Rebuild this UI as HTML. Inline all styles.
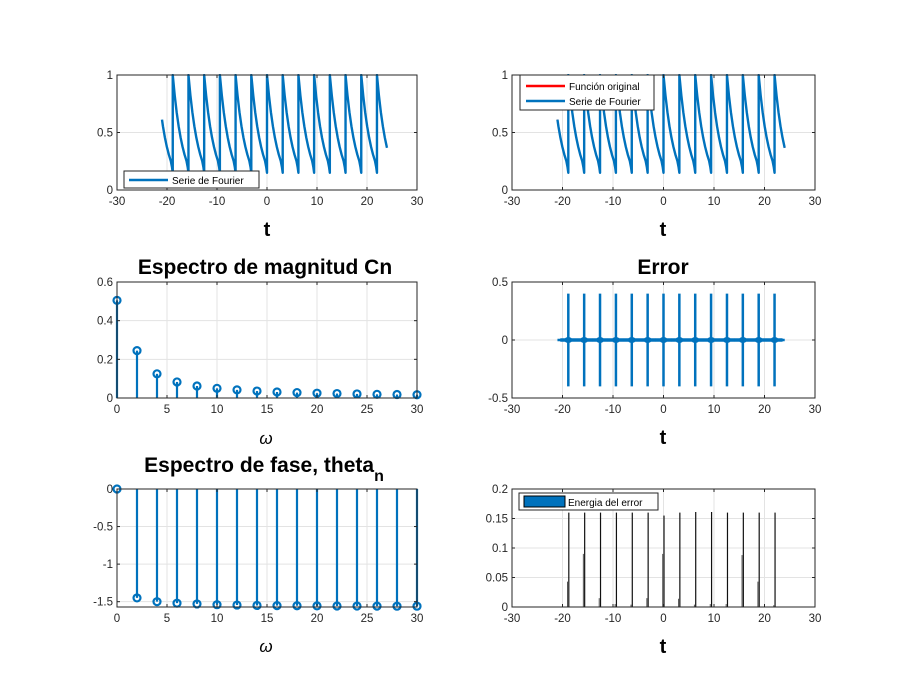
<!DOCTYPE html>
<html><head><meta charset="utf-8"><style>
html,body{margin:0;padding:0;background:#fff}
svg{display:block;font-family:"Liberation Sans",sans-serif}
</style></head><body>
<svg id="fig" width="900" height="695" viewBox="0 0 900 695" xmlns="http://www.w3.org/2000/svg">
<rect width="900" height="695" fill="#fff"/>
</svg>
<script>
// ---- data ----
const jumpTimes = [-18.85,-15.71,-12.57,-9.42,-6.28,-3.14,0,3.14,6.28,9.42,12.57,15.71,18.85,21.99];
const period = 3.1416;
const tStart = -21, tEnd = 24;
const shapeFrac = [0,0.125,0.25,0.375,0.5,0.625,0.75,0.875,0.95,1];
const shapeSeries = [1.0,0.822,0.675,0.555,0.456,0.375,0.308,0.253,0.2,0.15];
const shapeOrig = [1.0,0.822,0.675,0.555,0.456,0.375,0.308,0.253,0.225,0.208];
const omegas = [0,2,4,6,8,10,12,14,16,18,20,22,24,26,28,30];
const magnitudes = [0.505,0.245,0.125,0.083,0.062,0.05,0.042,0.036,0.031,0.028,0.025,0.023,0.021,0.019,0.018,0.017];
const phases = [0,-1.45,-1.50,-1.52,-1.53,-1.54,-1.545,-1.55,-1.552,-1.554,-1.556,-1.557,-1.558,-1.559,-1.56,-1.56];
const errorPeak = 0.4;
const energyMain = [0.16,0.16,0.16,0.16,0.16,0.16,0.155,0.16,0.161,0.161,0.16,0.16,0.16,0.16];
const energySide = [0.043,0.09,0.015,0.005,0.004,0.015,0.09,0.014,0.004,0.005,0.005,0.088,0.043,0.003];
const xTicksT = [-30,-20,-10,0,10,20,30];
const xTicksW = [0,5,10,15,20,25,30];

const NS="http://www.w3.org/2000/svg";
const svg=document.getElementById('fig');
const BLUE="#0072BD", AX="#262626";
function el(tag,attrs,parent){const e=document.createElementNS(NS,tag);for(const k in attrs)e.setAttribute(k,attrs[k]);(parent||svg).appendChild(e);return e;}
let clipId=0;
function panel(name,x0,x1,y0,y1,xmin,xmax,ymin,ymax,xt,yt,ytl){
  const g=el('g',{});
  
  
  const sx=v=>x0+(v-xmin)/(xmax-xmin)*(x1-x0);
  const sy=v=>y1-(v-ymin)/(ymax-ymin)*(y1-y0);
  el('rect',{x:x0,y:y0,width:x1-x0,height:y1-y0,fill:'#fff'},g);
  const grid=el('g',{stroke:'#e3e3e3','stroke-width':1},g);
  
  
  xt.forEach(v=>el('line',{x1:sx(v),x2:sx(v),y1:y0,y2:y1},grid));
  yt.forEach(v=>el('line',{x1:x0,x2:x1,y1:sy(v),y2:sy(v)},grid));
  const cid='c'+(clipId++);
  const cp=el('clipPath',{id:cid},g);el('rect',{x:x0,y:y0-1,width:x1-x0,height:y1-y0+2},cp);
  const plot=el('g',{'clip-path':'url(#'+cid+')'},g);
  const axg=el('g',{},g);
  el('rect',{x:x0,y:y0,width:x1-x0,height:y1-y0,fill:'none',stroke:AX,'stroke-width':1},axg);
  xt.forEach(v=>{el('line',{x1:sx(v),x2:sx(v),y1:y1,y2:y1-3,stroke:AX},axg);el('line',{x1:sx(v),x2:sx(v),y1:y0,y2:y0+3,stroke:AX},axg);
    const t=el('text',{x:sx(v),y:y1+15,'text-anchor':'middle','font-size':11.5,fill:AX},axg);t.textContent=v;
    });
  yt.forEach((v,i)=>{el('line',{x1:x0,x2:x0+3,y1:sy(v),y2:sy(v),stroke:AX},axg);el('line',{x1:x1,x2:x1-3,y1:sy(v),y2:sy(v),stroke:AX},axg);
    const t=el('text',{x:x0-4,y:sy(v)+4,'text-anchor':'end','font-size':11.5,fill:AX},axg);t.textContent=ytl?ytl[i]:v;
    });
  return {g,plot,axg,sx,sy};
}
function label(txt,x,y,opts,name){const t=el('text',Object.assign({x:x,y:y,'text-anchor':'middle',fill:'#000'},opts));t.textContent=txt;
  return t;}
function seriesPath(P,fr,vals){
  const pts=[];
  const v0=interp((tStart-jumpTimes[6])/period,fr,vals);pts.push([tStart,v0]);
  for(let k=-8;k<=9;k++){const base=jumpTimes[6]+k*period;
    for(let i=0;i<fr.length;i++){const t=base+fr[i]*period;if(t>tStart&&t<tEnd)pts.push([t,vals[i]]);}}
  pts.push([tEnd,interp((tEnd-jumpTimes[6])/period,fr,vals)]);
  return pts.map((p,i)=>(i?'L':'M')+P.sx(p[0]).toFixed(2)+','+P.sy(p[1]).toFixed(2)).join('');
}
function interp(u,fr,vals){u=u-Math.floor(u);for(let i=1;i<fr.length;i++)if(u<=fr[i]){const a=(u-fr[i-1])/(fr[i]-fr[i-1]);return vals[i-1]+a*(vals[i]-vals[i-1]);}return vals[vals.length-1];}

// Panel A
const A=panel('fourier-series-plot',117,417,75,190,-30,30,0,1,xTicksT,[0,0.5,1]);
const pa=el('path',{d:seriesPath(A,shapeFrac,shapeSeries),fill:'none',stroke:BLUE,'stroke-width':2.4,'stroke-linejoin':'round'},A.plot);

label('t',267,236,{'font-size':20,'font-weight':'bold'},'x-axis-title');
(function(){const lg=el('g',{},A.g);
 el('rect',{x:124,y:171,width:135,height:17,fill:'#fff',stroke:AX},lg);
 el('line',{x1:129,x2:168,y1:180,y2:180,stroke:BLUE,'stroke-width':2.5},lg);
 const t=el('text',{x:172,y:184,'font-size':10,fill:'#000'},lg);t.textContent='Serie de Fourier';})();

// Panel B
const B=panel('comparison-plot',512,815,75,190,-30,30,0,1,xTicksT,[0,0.5,1]);
const pr=el('path',{d:seriesPath(B,shapeFrac,shapeOrig),fill:'none',stroke:'#FF0000','stroke-width':1.5},B.plot);

const pb=el('path',{d:seriesPath(B,shapeFrac,shapeSeries),fill:'none',stroke:BLUE,'stroke-width':2.4,'stroke-linejoin':'round'},B.plot);

label('t',663,236,{'font-size':20,'font-weight':'bold'},'x-axis-title');
(function(){const lg=el('g',{},B.g);
 el('rect',{x:520,y:75,width:134,height:35,fill:'#fff',stroke:AX},lg);
 el('line',{x1:526,x2:565,y1:86,y2:86,stroke:'#FF0000','stroke-width':2.5},lg);
 el('line',{x1:526,x2:565,y1:101,y2:101,stroke:BLUE,'stroke-width':2.5},lg);
 let t=el('text',{x:569,y:90,'font-size':10,fill:'#000'},lg);t.textContent='Función original';
 t=el('text',{x:569,y:105,'font-size':10,fill:'#000'},lg);t.textContent='Serie de Fourier';})();

function stems(P,xs,ys,name){const g=el('g',{},P.plot);
  xs.forEach((x,i)=>{el('line',{x1:P.sx(x),x2:P.sx(x),y1:P.sy(0),y2:P.sy(ys[i]),stroke:BLUE,'stroke-width':2.2},g);
    const c=el('circle',{cx:P.sx(x),cy:P.sy(ys[i]),r:3.5,fill:'none',stroke:BLUE,'stroke-width':2.2},g);
    });}
// Panel C
const C=panel('magnitude-spectrum-plot',117,417,282,398,0,30,0,0.6,xTicksW,[0,0.2,0.4,0.6]);
C.plot.removeAttribute('clip-path');
stems(C,omegas,magnitudes,'magnitude-stems');
label('Espectro de magnitud Cn',265,274,{'font-size':21,'font-weight':'bold'},'chart-title');
label('ω',266,444,{'font-size':17,'font-style':'italic'},'x-axis-title');

// Panel D
const D=panel('error-plot',512,815,282,398,-30,30,-0.5,0.5,xTicksT,[-0.5,0,0.5]);
(function(){const g=el('g',{},D.plot);
 el('line',{x1:D.sx(tStart),x2:D.sx(tEnd),y1:D.sy(0),y2:D.sy(0),stroke:BLUE,'stroke-width':2.5},g);
 jumpTimes.forEach(t=>{el('line',{x1:D.sx(t),x2:D.sx(t),y1:D.sy(-errorPeak),y2:D.sy(errorPeak),stroke:BLUE,'stroke-width':2.5},g);
   el('ellipse',{cx:D.sx(t),cy:D.sy(0),rx:4,ry:3,fill:BLUE},g);
   el('line',{x1:D.sx(t)-8,x2:D.sx(t)+8,y1:D.sy(0),y2:D.sy(0),stroke:BLUE,'stroke-width':3.5},g);});})();
label('Error',663,274,{'font-size':21,'font-weight':'bold'},'chart-title');
label('t',663,444,{'font-size':20,'font-weight':'bold'},'x-axis-title');

// Panel E
const E=panel('phase-spectrum-plot',117,417,489,607,0,30,-1.5708,0,xTicksW,[-1.5,-1,-0.5,0]);
E.plot.removeAttribute('clip-path');
stems(E,omegas,phases,'phase-stems');
(function(){const t=el('text',{x:264,y:472,'text-anchor':'middle','font-size':21,'font-weight':'bold',fill:'#000'});
 
 t.textContent='Espectro de fase, theta';const s=el('tspan',{dy:9,'font-size':16},t);s.textContent='n';})();
label('ω',266,652,{'font-size':17,'font-style':'italic'},'x-axis-title');

// Panel F
const F=panel('error-energy-plot',512,815,489,607,-30,30,0,0.2,xTicksT,[0,0.05,0.1,0.15,0.2]);
(function(){const g=el('g',{},F.plot);
 jumpTimes.forEach((t,i)=>{el('line',{x1:F.sx(t)+0.5,x2:F.sx(t)+0.5,y1:F.sy(0),y2:F.sy(energyMain[i]),stroke:'#111','stroke-width':1.2},g);
   el('line',{x1:F.sx(t)-0.8,x2:F.sx(t)-0.8,y1:F.sy(0),y2:F.sy(energySide[i]),stroke:'#555','stroke-width':1},g);});})();
label('t',663,653,{'font-size':20,'font-weight':'bold'},'x-axis-title');
(function(){const lg=el('g',{},F.g);
 el('rect',{x:519,y:493,width:139,height:17,fill:'#fff',stroke:AX},lg);
 el('rect',{x:524,y:496,width:41,height:11,fill:BLUE,stroke:'#000'},lg);
 const t=el('text',{x:568,y:506,'font-size':10,fill:'#000'},lg);t.textContent='Energia del error';})();
</script>
</body></html>
